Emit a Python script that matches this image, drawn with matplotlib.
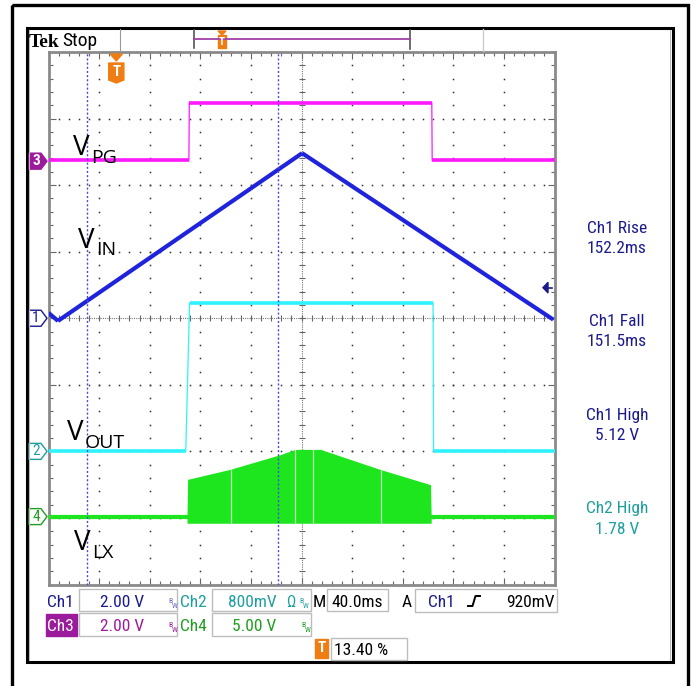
import numpy as np
import matplotlib.pyplot as plt
from matplotlib import transforms, font_manager
from matplotlib.patches import Rectangle, Polygon

# ---- scope data: time in ms, amplitude in divisions from screen centre ----
vin_t = [0, 7.5, 200.5, 399]
vin_v = [0.08, -0.04, 2.48, -0.02]
vpg_t = [0, 111, 111.3, 303, 303.3, 400]
vpg_v = [2.37, 2.37, 3.24, 3.24, 2.37, 2.37]
vout_t = [0, 108.5, 111.5, 304, 304.4, 400]
vout_v = [-2.0, -2.0, 0.23, 0.23, -2.0, -2.0]
vlx_t = [0, 400]
vlx_v = [-2.98, -2.98]
burst_t = [109.5, 110, 143.5, 183, 195, 215, 262, 302, 302.5]
burst_top = [-2.98, -2.42, -2.27, -2.05, -1.97, -1.97, -2.27, -2.50, -2.98]
burst_bot = -3.08
gap_t = [144, 195, 209, 263]

cursor_t = [30.5, 181.5]
trig_pct = 13.40
trig_level = 0.46          # 920 mV at 2 V/div
ch_levels = {'1': 0.0, '2': -2.0, '3': 2.36, '4': -2.98}

meas_names = ['Ch1 Rise', 'Ch1 Fall', 'Ch1 High', 'Ch2 High']
meas_values = ['152.2ms', '151.5ms', '5.12 V', '1.78 V']

# colours
c_ch1, c_ch2, c_ch3, c_ch4 = '#1a1a8c', '#1f9e9e', '#9c1a9c', '#1f9e1f'
tr_ch1, tr_ch2, tr_ch3, tr_ch4 = '#1f24dc', '#2ef2ff', '#ff19ff', '#1ee61e'
orange = '#f07d14'

names = {f.name for f in font_manager.fontManager.ttflist}
ff = 'DejaVu Sans'
for cand in ['Liberation Sans Narrow', 'DejaVu Sans Condensed', 'Roboto Condensed', 'Roboto']:
    if cand in names:
        ff = cand
        break
lab_ff = 'Open Sans' if 'Open Sans' in names else 'DejaVu Sans'
tek_ff = 'Liberation Serif' if 'Liberation Serif' in names else 'DejaVu Serif'

W, H = 694, 686
fig = plt.figure(figsize=(W / 100, H / 100), dpi=100)
fig.patch.set_facecolor('white')

gl, gr, gt, gb = 48.5, 554.5, 52.0, 584.5
ax = fig.add_axes([gl / W, (H - gb) / H, (gr - gl) / W, (gb - gt) / H])
ax.set_xlim(0, 400)
ax.set_ylim(-4, 4)
ax.set_xticks(np.arange(0, 401, 40))
ax.set_xticks(np.arange(0, 401, 8), minor=True)
ax.set_yticks(np.arange(-4, 4.01, 1))
ax.set_yticks(np.arange(-4, 4.01, 0.2), minor=True)
ax.tick_params(which='both', direction='in', top=True, right=True,
               labelbottom=False, labelleft=False, color='#666', width=0.8)
ax.tick_params(which='major', length=5)
ax.tick_params(which='minor', length=3)
for s in ax.spines.values():
    s.set_color('#8a8a8a')
    s.set_linewidth(2)

# graticule dots
ydots = np.arange(-3.8, 3.81, 0.2)
xdots = np.arange(8, 393, 8)
for k in range(1, 10):
    if k != 5:
        ax.plot(np.full_like(ydots, 40 * k), ydots, ls='none', marker='s', ms=1.1, mew=0, color='#333')
for k in range(-3, 4):
    if k != 0:
        ax.plot(xdots, np.full_like(xdots, k), ls='none', marker='s', ms=1.1, mew=0, color='#333')
ax.axhline(0, color='#777', lw=0.8, ls=(0, (1, 1)))
ax.axvline(200, color='#777', lw=0.8, ls=(0, (1, 1)))
ax.plot(xdots, np.zeros_like(xdots), ls='none', marker='|', ms=4, mew=0.8, color='#666')
ax.plot(np.full_like(ydots, 200), ydots, ls='none', marker='_', ms=4, mew=0.8, color='#666')

for c in cursor_t:
    ax.axvline(c, color='#4a4ad8', lw=1.0, ls=(0, (1.5, 1.5)), zorder=5)


def trace(t, v, color, lw):
    ax.plot(t, v, color=color, lw=0.9, zorder=3)
    for i in range(len(t) - 1):
        if t[i + 1] - t[i] > 4:
            ax.plot(t[i:i + 2], v[i:i + 2], color=color, lw=lw, solid_capstyle='butt', zorder=3)


trace(vpg_t, vpg_v, tr_ch3, 2.6)
trace(vout_t, vout_v, tr_ch2, 2.6)
trace(vlx_t, vlx_v, tr_ch4, 3.0)
ax.fill_between(burst_t, burst_bot, burst_top, color=tr_ch4, lw=0, zorder=3)
ax.vlines(gap_t, burst_bot, np.interp(gap_t, burst_t, burst_top), color='white', lw=0.9, alpha=0.7, zorder=3)
trace(vin_t, vin_v, tr_ch1, 3.0)

# ---- overlay in pixel coordinates ----
ov = fig.add_axes([0, 0, 1, 1])
ov.set_xlim(0, W)
ov.set_ylim(H, 0)
ov.axis('off')
ov.patch.set_alpha(0)

ov.add_patch(Rectangle((12, 5), 676, 700, fill=False, ec='black', lw=2.4))
ov.add_patch(Rectangle((27, 28), 646, 634, fill=False, ec='black', lw=2.2))
ov.plot([29.5, 29.5], [30, 660], color='#bbb', lw=0.8)
ov.plot([670.5, 670.5], [30, 660], color='#bbb', lw=0.8)

# top status bar
ov.text(29, 47, 'Tek', family=tek_ff, weight='bold', fontsize=14, va='baseline')
ov.text(62, 46.5, 'Stop', family=ff, fontsize=14, va='baseline')
ov.plot([120, 120], [29, 51], color='#999', lw=0.8)
ov.plot([483, 483], [29, 51], color='#ccc', lw=1.0)
ov.plot([194, 194], [30, 48], color='#555', lw=1.2)
ov.plot([410, 410], [30, 49], color='#555', lw=1.2)
ov.plot([194, 410], [39, 39], color='#a040a8', lw=1.3)
ov.add_patch(Polygon([[218, 31], [226, 31], [222, 35]], color=orange))
ov.add_patch(Rectangle((218, 35), 8, 13, color=orange))
ov.text(222, 42, 'T', color='white', fontsize=8, ha='center', va='center', weight='bold', family=ff)

# trigger position marker
tx = trig_pct / 100 * 400
tb = transforms.blended_transform_factory(ax.transData, ov.transData)
ov.add_patch(Polygon([[tx - 4.8, 54], [tx + 4.8, 54], [tx, 61]], color=orange, transform=tb))
ov.add_patch(Polygon([[tx - 6, 63], [tx + 6, 63], [tx + 6, 80], [tx, 83], [tx - 6, 80]], color=orange, transform=tb))
ov.text(tx, 72, 'T', transform=tb, color='white', fontsize=11, ha='center', va='center', weight='bold', family=ff)

# channel ground markers on the left
cb = transforms.blended_transform_factory(ov.transData, ax.transData)
dy = 8 / 66.56
mark_cols = {'1': c_ch1, '2': c_ch2, '3': c_ch3, '4': c_ch4}
for ch, lev in ch_levels.items():
    pts = [[29, lev + dy], [41, lev + dy], [47, lev], [41, lev - dy], [29, lev - dy]]
    filled = ch == '3'
    ov.add_patch(Polygon(pts, closed=True, transform=cb, fc=mark_cols[ch] if filled else 'white',
                         ec=mark_cols[ch], lw=1.0))
    ov.text(36, lev, ch, transform=cb, ha='center', va='center', fontsize=11, family=ff,
            color='white' if filled else mark_cols[ch], weight='bold' if filled else 'normal')

# trigger level arrow on the right
ov.plot([544, 552], [trig_level, trig_level], transform=cb, color=c_ch1, lw=1.2)
ov.add_patch(Polygon([[543, trig_level], [548, trig_level + 0.08], [548, trig_level - 0.08]],
                     transform=cb, color=c_ch1))

# signal labels
labels = [('V', 'PG', 73, 155, 163), ('V', 'IN', 78, 248, 255),
          ('V', 'OUT', 67, 440, 448), ('V', 'LX', 74, 550, 558)]
for big, sub, x, yb, ys in labels:
    ov.text(x, yb, big, family=lab_ff, fontsize=20, va='baseline')
    ov.text(x + 18, ys, sub, family=lab_ff, fontsize=14, va='baseline')

# measurement readouts
for i, (n, v) in enumerate(zip(meas_names, meas_values)):
    col = c_ch2 if n.startswith('Ch2') else c_ch1
    y0 = 233 + i * 93.5
    ov.text(617, y0, n, ha='center', va='baseline', family=ff, fontsize=12.5, color=col)
    ov.text(617, y0 + 20, v, ha='center', va='baseline', family=ff, fontsize=12.5, color=col)

# bottom readout boxes
def box(x0, y0, x1, y1):
    ov.add_patch(Rectangle((x0, y0), x1 - x0, y1 - y0, fill=False, ec='#bdbdbd', lw=1.0))


def bw(x, y, col):
    ov.text(x, y - 4, 'B', fontsize=5.5, color=col, family=ff, va='baseline')
    ov.text(x + 3.5, y + 1, 'W', fontsize=5.5, color=col, family=ff, va='baseline')


fs = 12.5
r1, r2, r3 = 607, 631, 655
ov.text(47, r1, 'Ch1', family=ff, fontsize=fs, color=c_ch1, va='baseline')
box(79, 589, 177, 611)
ov.text(122, r1, '2.00 V', family=ff, fontsize=fs, color=c_ch1, va='baseline', ha='center')
bw(168, r1, '#6a6ac0')
ov.text(180, r1, 'Ch2', family=ff, fontsize=fs, color=c_ch2, va='baseline')
box(212, 589, 311, 611)
ov.text(228, r1, '800mV', family=ff, fontsize=fs, color=c_ch2, va='baseline')
ov.text(286, r1, '\u03a9', family=ff, fontsize=fs - 1, color=c_ch2, va='baseline')
bw(299, r1, c_ch2)
ov.text(313, r1, 'M', family=ff, fontsize=fs, color='black', va='baseline')
box(327, 589, 388, 611)
ov.text(357.5, r1, '40.0ms', family=ff, fontsize=fs, color='black', va='baseline', ha='center')
ov.text(402, r1, 'A', family=ff, fontsize=fs, color='black', va='baseline')
box(415, 589, 557, 612)
ov.text(428, r1, 'Ch1', family=ff, fontsize=fs, color=c_ch1, va='baseline')
ov.plot([468, 472.5, 475.5, 480], [606, 606, 596, 596], color='black', lw=1.4)
ov.text(555, r1, '920mV', family=ff, fontsize=fs, color='black', va='baseline', ha='right')

ov.add_patch(Rectangle((46, 614), 31, 22, color=c_ch3))
ov.text(47.5, r2, 'Ch3', family=ff, fontsize=fs, color='white', va='baseline')
box(79, 613, 177, 636)
ov.text(122, r2, '2.00 V', family=ff, fontsize=fs, color=c_ch3, va='baseline', ha='center')
bw(168, r2, c_ch3)
ov.text(180, r2, 'Ch4', family=ff, fontsize=fs, color=c_ch4, va='baseline')
box(212, 613, 311, 636)
ov.text(254.5, r2, '5.00 V', family=ff, fontsize=fs, color=c_ch4, va='baseline', ha='center')
bw(301, r2, c_ch4)

ov.add_patch(Rectangle((315, 639), 13, 19, color=orange))
ov.text(321.5, 648.5, 'T', family=ff, fontsize=11, color='white', weight='bold', ha='center', va='center')
box(331, 638, 407, 660)
ov.text(334, r3, '13.40 %', family=ff, fontsize=fs, color='black', va='baseline')

fig.savefig('out.png', dpi=100)
